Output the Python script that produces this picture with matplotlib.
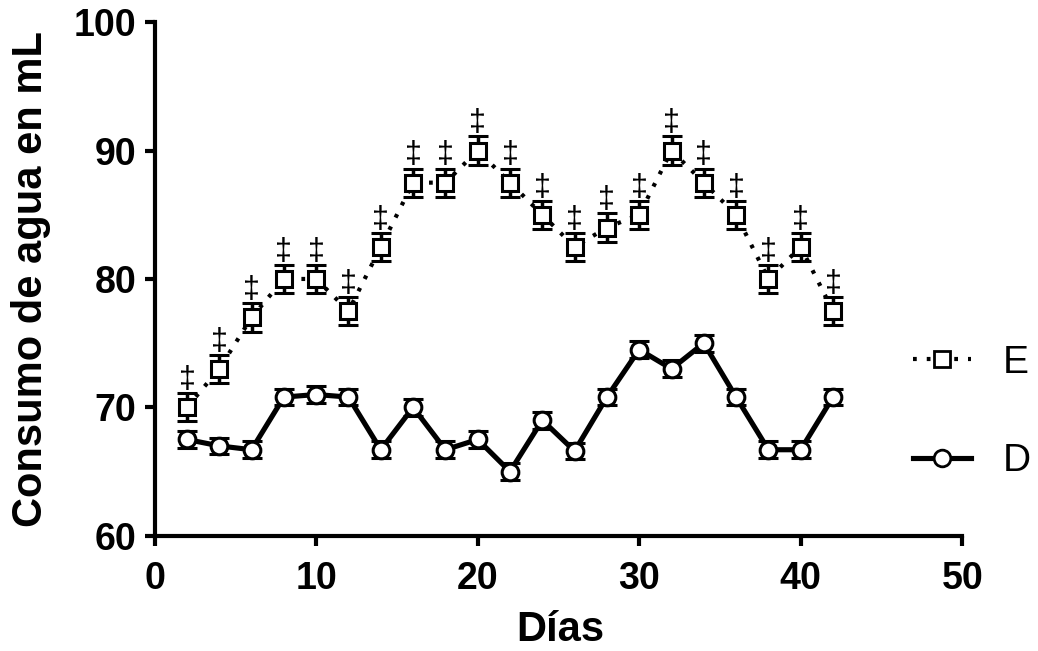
import numpy as np
import matplotlib.pyplot as plt
from matplotlib.lines import Line2D

plt.rcParams['font.family'] = ['Liberation Sans', 'DejaVu Sans']

# Data
dias = [2, 4, 6, 8, 10, 12, 14, 16, 18, 20, 22, 24, 26, 28, 30, 32, 34, 36, 38, 40, 42]
e_vals = [70, 73, 77, 80, 80, 77.5, 82.5, 87.5, 87.5, 90, 87.5, 85, 82.5, 84, 85, 90,
          87.5, 85, 80, 82.5, 77.5]
e_err = [1.1, 1.1, 1.1, 1.1, 1.1, 1.1, 1.1, 1.1, 1.1, 1.1, 1.1, 1.1, 1.1, 1.1, 1.1, 1.1,
         1.1, 1.1, 1.1, 1.1, 1.1]
d_vals = [67.5, 67, 66.7, 70.8, 71, 70.8, 66.7, 70, 66.7, 67.5, 65, 69, 66.6, 70.8, 74.5,
          73, 75, 70.8, 66.7, 66.7, 70.8]
d_err = [0.65, 0.65, 0.65, 0.65, 0.65, 0.65, 0.65, 0.65, 0.65, 0.65, 0.65, 0.65, 0.65,
         0.65, 0.65, 0.65, 0.65, 0.65, 0.65, 0.65, 0.65]
marca = '\u2021'

fig = plt.figure(figsize=(10.38, 6.51), dpi=100)
ax = fig.add_axes([0.149, 0.177, 0.778, 0.789])

dotted = (0, (0.9, 2.4))

# D series: thick solid line, open circles
ax.errorbar(dias, d_vals, yerr=d_err, color='black', linewidth=3.7, marker='o',
            markersize=12, markerfacecolor='white', markeredgewidth=2.2,
            capsize=7, capthick=2.8, elinewidth=2.5, zorder=3)

# E series: dotted line, open squares
ax.errorbar(dias, e_vals, yerr=e_err, color='black', linewidth=3,
            linestyle=dotted, marker='s', markersize=12,
            markerfacecolor='white', markeredgewidth=2.2, capsize=7, capthick=2.8,
            elinewidth=2.5, zorder=3)

# significance marks
for x, y, err in zip(dias, e_vals, e_err):
    ax.text(x, y + err - 0.15, marca, ha='center', va='bottom', fontsize=22)

ax.set_xlim(0, 50)
ax.set_ylim(60, 100)
ax.set_xticks([0, 10, 20, 30, 40, 50])
ax.set_yticks([60, 70, 80, 90, 100])

for s in ['top', 'right']:
    ax.spines[s].set_visible(False)
for s in ['left', 'bottom']:
    ax.spines[s].set_linewidth(3)
ax.tick_params(width=3, length=7, labelsize=27)
ax.tick_params(axis='x', pad=11)
ax.tick_params(axis='y', pad=6)
for lbl in ax.get_xticklabels() + ax.get_yticklabels():
    lbl.set_fontweight('bold')

ax.set_xlabel('Días', fontsize=30, fontweight='bold')
ax.set_ylabel('Consumo de agua en mL', fontsize=30, fontweight='bold')
ax.xaxis.set_label_coords(0.502, -0.145)
ax.yaxis.set_label_coords(-0.128, 0.5)

h_e = Line2D([], [], color='black', linewidth=3, linestyle=dotted, marker='s',
             markersize=12, markerfacecolor='white', markeredgewidth=2)
h_d = Line2D([], [], color='black', linewidth=3.7, marker='o', markersize=12,
             markerfacecolor='white', markeredgewidth=2)
fig.legend([h_e, h_d], ['E', 'D'], loc='center left',
           bbox_to_anchor=(0.8795, 0.367), frameon=False, fontsize=28,
           handlelength=1.5, labelspacing=1.6, handletextpad=0.8,
           borderpad=0, borderaxespad=0)

fig.savefig('out.png', dpi=100)
